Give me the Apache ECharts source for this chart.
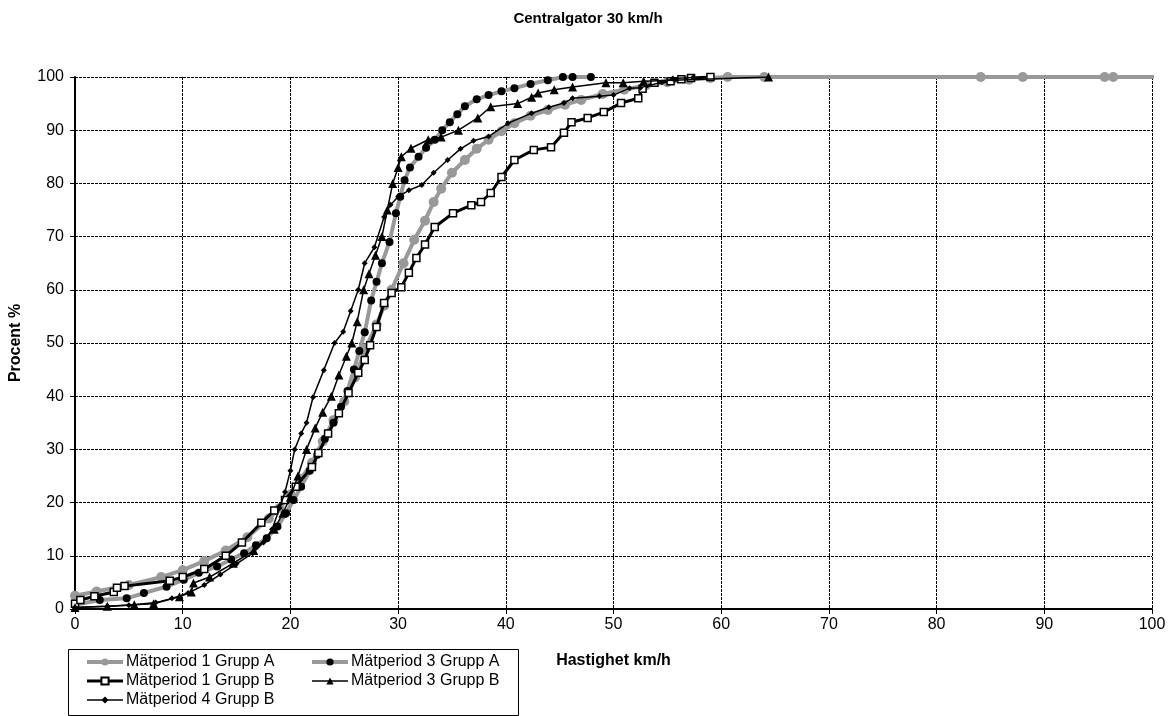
<!DOCTYPE html>
<html>
<head>
<meta charset="utf-8">
<script src="https://cdn.jsdelivr.net/npm/echarts@6/dist/echarts.min.js"></script>
<style>
  html, body { margin: 0; padding: 0; background: #fff; }
  #chart { width: 1176px; height: 716px; }
</style>
</head>
<body>
<div id="chart"></div>
<script>
// Cumulative speed distributions, [km/h, percent].
var P1A = [[0,2.5],[2,3.3],[5,4.5],[8,6],[10,7.3],[12,9],[14,11],[16,13.5],[18,17],[19,19],
  [20,21.5],[21,24.5],[22,27.5],[23,31.5],[24,35.5],[25,39],[26,43.5],[27,49],[28,53.5],[28.7,57],
  [29.4,60],[30.5,65],[31.5,69.4],[32.5,73],[33.3,76.5],[34,79],[35,82],[36.2,84.4],[37.3,86.5],
  [38.4,88.2],[39.6,89.8],[40.8,91.3],[42.3,92.7],[43.9,93.8],[45.5,94.8],[47,95.7],[49,96.8],
  [51,97.6],[53,98.4],[55,99],[57,99.5],[59,99.8],[60.6,100],[64,100],[84.1,100],[88,100],
  [95.6,100],[96.4,100],[104,100]];
var P3A = [[0,0.8],[2.3,1.7],[4.8,2],[6.4,3],[8.5,4.2],[10.1,5.5],[11.5,6.8],[13.2,8],[14.5,9.3],
  [15.7,10.5],[16.8,12],[17.8,13.3],[18.8,15.5],[19.6,18],[20.3,20.5],[21,23],[21.8,26],[22.5,29],
  [23.2,32],[24,35],[24.7,38],[25.3,41],[25.9,45],[26.4,48.5],[26.9,52],[27.5,58],[28,61.5],
  [28.5,65],[29.2,69],[29.8,74.4],[30.2,77.5],[30.6,80.6],[31.1,83],[31.9,85],[32.6,86.7],
  [33.4,88.2],[34.1,90],[34.8,91.5],[35.5,93],[36.2,94.5],[37.3,95.8],[38.4,96.6],[39.6,97.3],
  [40.8,97.9],[42.3,98.7],[43.9,99.4],[45.3,100],[46.2,100],[47.9,100]];
var P1B = [[0,1],[0.5,1.7],[1.8,2.4],[3.6,3.2],[3.9,4],[4.6,4.3],[8.8,5.3],[10,6],[12,7.5],
  [14,10],[15.5,12.5],[17.3,16.2],[18.5,18.5],[19.5,20.5],[20.5,23],[22,26.7],[22.6,29.3],
  [23.5,33],[24.5,36.8],[25.4,40.6],[26.3,44.4],[26.9,46.8],[27.4,49.6],[28,53],[28.7,57.5],
  [29.4,59.4],[30.3,60.5],[31,63.2],[31.7,66],[32.5,68.5],[33.4,71.8],[35.1,74.4],[36.8,75.9],
  [37.7,76.5],[38.6,78.2],[39.6,81.2],[40.8,84.4],[42.6,86.3],[44.2,86.8],[45.4,89.5],
  [46.1,91.5],[47.6,92.3],[49.1,93.4],[50.7,95.1],[52.3,96],[52.7,97.8],[53.8,98.9],
  [55.3,99.2],[56.3,99.6],[57.2,99.8],[59,100]];
var P3B = [[0,0.3],[3,0.5],[5.5,0.8],[7.3,1],[9.7,2.3],[10.8,3.2],[11,4.9],[12.5,6],[14.7,8.6],
  [16.6,11],[18.5,15],[19.3,18],[20,21],[20.7,25],[21.5,30],[22.3,34],[23,37],[23.8,40],
  [24.5,44],[25.2,47.5],[25.7,50],[26.2,54],[26.8,60],[27.3,63],[27.9,66.5],[28.5,70],[29,75],
  [29.5,80],[30,83],[30.3,85],[31.2,86.6],[32.8,88.2],[34,88.7],[35.6,90],[37.4,92.3],
  [38.6,94.4],[41.1,95],[42.4,96.2],[43,97],[44.5,97.6],[46.2,98.1],[49.3,98.9],[50.9,98.9],
  [52.8,99.2],[64.4,100]];
var P4B = [[0,0.3],[3,0.5],[5,0.7],[7.5,1.2],[9,2],[10.5,3],[12,4.5],[13.5,6.5],[15,8.5],
  [16.5,10.5],[17.5,12.5],[18.3,15],[19,19],[19.5,22],[20,26],[20.4,30],[21,33],[21.5,35],
  [22.1,39.8],[23.1,44.9],[24.1,50],[24.9,52.1],[25.6,56],[26.3,60],[26.9,65],[27.8,68],
  [28.7,73.7],[29.3,76],[30,77.5],[31,78.7],[32.2,79.7],[33.3,82],[34.6,84.4],[35.8,86.5],
  [37,88],[38.4,88.8],[40.2,91.3],[42.4,93.2],[44,94.3],[45.4,95.1],[46.2,96],[48.7,96.4],
  [50,96.6],[51.5,97.9],[52.5,98],[54.5,99],[55.5,99.7],[57.4,99.9]];

var NAMES = ["Mätperiod 1 Grupp A", "Mätperiod 3 Grupp A", "Mätperiod 1 Grupp B",
             "Mätperiod 3 Grupp B", "Mätperiod 4 Grupp B"];
var TITLE = "Centralgator 30 km/h";
var X_NAME = "Hastighet km/h";
var Y_NAME = "Procent %";

var FONT = "Liberation Sans, Arial, sans-serif";
var GREY = "#999999";

var STYLE = [
  { symbol: "circle", size: 10, line: GREY, width: 4, fill: GREY, z: 2 },
  { symbol: "circle", size: 8, line: GREY, width: 4, fill: "#000", z: 3 },
  { symbol: "rect", size: 7, line: "#000", width: 3, fill: "#fff", border: "#000", bw: 1.5, z: 4 },
  { symbol: "triangle", size: 9, line: "#000", width: 1.5, fill: "#000", z: 5 },
  { symbol: "diamond", size: 6, line: "#000", width: 1.5, fill: "#000", z: 6 }
];

function series(i, data) {
  var opt = STYLE[i];
  return {
    name: NAMES[i], type: "line", data: data, clip: true,
    symbol: opt.symbol, symbolSize: opt.size,
    lineStyle: { color: opt.line, width: opt.width },
    itemStyle: { color: opt.fill, borderColor: opt.border || opt.fill, borderWidth: opt.bw || 0 },
    emphasis: { disabled: true }, animation: false, z: opt.z
  };
}

// two stacked columns inside one framed box, like the original legend
function legendColumn(left, idx) {
  return {
    left: left, top: 654, orient: "vertical",
    itemWidth: 36, itemHeight: 9, itemGap: 3, padding: 0,
    textStyle: { fontFamily: FONT, fontSize: 16, lineHeight: 16, color: "#000", padding: [0, 0, 0, -2] },
    data: idx.map(function (i) {
      return { name: NAMES[i], lineStyle: { width: STYLE[i].width, color: STYLE[i].line } };
    })
  };
}

var axisCommon = {
  type: "value", min: 0, max: 100, interval: 10, nameLocation: "middle",
  nameTextStyle: { fontFamily: FONT, fontSize: 16, fontWeight: "bold", color: "#000" },
  axisLine: { show: true, onZero: false, lineStyle: { color: "#000", width: 2 } },
  axisTick: { show: true, length: 5, lineStyle: { color: "#000" } },
  axisLabel: { fontFamily: FONT, fontSize: 16, color: "#000", margin: 8 },
  splitLine: { show: true, lineStyle: { color: "#000", type: [3, 1], width: 1 } }
};

var chart = echarts.init(document.getElementById("chart"));
chart.setOption({
  animation: false,
  title: {
    text: TITLE, left: "center", top: 6,
    textStyle: { fontFamily: FONT, fontSize: 15, fontWeight: "bold", color: "#000" }
  },
  grid: { left: 73, right: 24, top: 77, bottom: 107 },
  xAxis: Object.assign({}, axisCommon, { name: X_NAME, nameGap: 44 }),
  yAxis: Object.assign({}, axisCommon, {
    name: Y_NAME, nameGap: 51, nameRotate: 90,
    axisLabel: Object.assign({}, axisCommon.axisLabel, { margin: 11 })
  }),
  legend: [
    legendColumn(85, [0, 2, 4]),
    legendColumn(310, [1, 3])
  ],
  graphic: [{
    type: "rect", shape: { x: 68.5, y: 649.5, width: 450, height: 66 },
    style: { fill: "none", stroke: "#000", lineWidth: 1 }, silent: true
  }],
  series: [series(0, P1A), series(1, P3A), series(2, P1B), series(3, P3B), series(4, P4B)]
});
</script>
</body>
</html>
